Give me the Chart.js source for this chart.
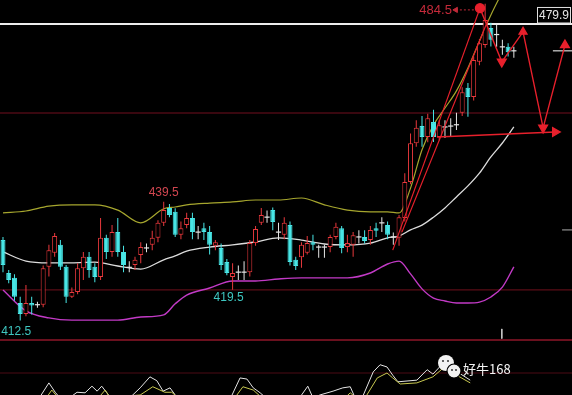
<!DOCTYPE html>
<html><head><meta charset="utf-8">
<script src="https://cdn.jsdelivr.net/npm/chart.js@4.4.1/dist/chart.umd.min.js"></script>
<style>html,body{margin:0;padding:0;background:#000;overflow:hidden}canvas{display:block}</style>
</head><body>
<canvas id="c" width="572" height="395"></canvas>
<script>
// ---- candle data (index = bar number) ----
const opens  = [430.8,423.3,422.2,416.5,414.0,416.5,416.1,416.1,424.7,427.9,429.7,424.7,417.9,419.0,424.4,427.0,424.7,422.4,431.3,428.1,432.6,428.1,424.6,425.1,427.4,429.0,429.7,431.3,434.7,438.1,437.2,432.0,434.2,435.8,432.6,433.5,432.6,429.5,429.0,425.8,422.4,423.5,423.5,423.5,430.1,434.7,436.0,437.6,432.6,432.0,434.2,426.3,426.9,427.9,430.3,429.2,429.2,429.2,431.5,433.5,429.2,429.7,431.5,431.5,430.8,433.5,434.7,434.2,431.5,431.3,435.8,444.0,452.8,456.7,454.2,457.6,454.2,456.5,456.7,457.0,459.7,465.4,463.3,471.3,475.1,479.0,477.5,474.7,474.7,473.8];
const highs  = [431.5,424.0,423.0,417.9,420.6,417.9,416.8,425.0,429.7,432.4,430.8,425.1,420.0,425.5,428.1,428.1,425.5,435.8,432.0,434.2,435.8,429.5,426.0,427.0,430.3,430.0,432.9,435.3,439.5,439.0,438.0,435.0,437.0,437.0,434.0,434.7,434.0,430.8,430.0,426.5,425.5,425.0,426.0,430.8,434.0,438.1,437.5,438.2,434.7,436.0,435.0,427.0,430.3,431.7,432.0,429.7,429.7,432.0,434.7,434.0,432.0,432.6,433.0,433.0,434.0,434.7,436.0,435.0,432.5,436.5,446.0,455.0,458.0,459.0,459.5,460.4,458.0,458.0,458.5,459.7,465.5,466.5,472.5,476.5,484.5,480.2,479.7,476.3,475.5,474.7];
const lows   = [423.5,421.0,417.0,412.5,413.5,413.9,415.4,415.5,422.5,427.0,424.0,416.5,417.6,418.5,421.7,422.2,421.2,421.7,426.5,427.0,427.0,423.5,423.5,424.0,425.5,428.0,428.5,430.3,434.0,436.0,431.5,431.0,433.5,431.0,431.0,430.8,427.5,428.5,424.0,422.8,419.5,421.7,421.7,422.5,429.5,434.2,434.7,433.0,430.8,431.0,425.0,424.0,424.5,427.5,428.5,426.8,426.8,428.0,431.0,427.8,428.0,427.0,430.0,430.0,429.7,431.5,432.6,431.0,429.7,429.5,435.0,443.5,452.0,452.0,453.0,453.1,453.5,454.0,454.2,455.8,459.0,458.8,462.5,470.5,474.5,474.8,474.7,472.9,472.5,472.2];
const closes = [425.1,421.7,417.9,414.0,416.5,415.9,416.1,424.4,428.5,431.7,424.7,417.9,419.0,424.4,427.0,424.0,422.4,431.3,428.1,432.6,428.1,425.1,424.6,426.3,429.2,429.0,431.3,434.7,437.6,436.5,432.0,433.5,435.8,432.6,432.6,432.6,429.7,430.3,425.1,423.3,423.3,423.5,423.5,430.1,433.3,436.5,436.0,434.9,432.6,434.7,425.8,424.9,429.7,430.1,429.7,429.2,429.2,431.5,433.8,429.0,430.1,431.9,431.5,430.6,433.1,432.9,434.7,432.0,431.5,436.0,444.0,452.8,456.3,454.2,458.5,454.2,456.9,456.5,456.7,457.0,464.4,463.3,471.7,475.5,480.8,476.3,477.5,474.7,473.5,473.8];

// ---- Bollinger bands (sampled bars) ----
const upperIdx  = [0,4,8,12,16,20,24,28,30,32,36,40,44,48,52,56,60,64,67,69,71,73,75,77,79,81,83,85,87];
const upperBand = [436.95,437.4,438.5,438.8,438.8,437.6,434.7,437.9,438.3,438.8,439.2,439.45,439.9,439.9,440.35,438.8,437.6,437.2,437.2,436.95,442.6,451.3,456.95,460.8,464.7,469.9,476.0,481.95,487.2];
const bandIdx   = [0,4,8,12,16,20,24,28,30,32,36,40,44,48,52,56,60,64,67,69,71,73,75,77,79,81,83,85,87,89];
const midBand   = [428.1,426.0,425.6,425.6,425.8,424.9,424.2,426.3,427.2,428.3,429.2,429.7,430.35,431.3,430.8,429.9,429.7,430.1,431.3,431.7,433.1,434.2,436.0,438.1,440.6,443.1,446.0,449.7,452.85,456.5];
const lowerBand = [419.45,414.7,413.1,412.6,412.6,412.6,413.3,413.8,416.3,418.3,419.9,421.5,421.5,421.95,422.2,422.2,422.2,423.3,425.35,426.0,423.1,419.7,417.6,416.95,416.5,416.5,416.7,417.85,420.1,424.7];

// ---- lower indicator panel ----
const whiteIdx = [6.1,8.0,9.1,9.9,12.0,12.9,14.3,15.5,16.4,17.2,18.1,19.0,22.1,23.9,25.6,26.8,27.9,29.1,30.0,30.8,39.5,41.3,42.5,43.6,44.8,46.2,51.4,53.1,54.0,55.2,57.5,59.2,60.5,61.3,62.7,64.5,65.7,66.9,67.9,68.8,72.1,73.9,74.9,76.7,78.7,81.4];
const whiteVal = [-9,22,5,-5,-2,5,4,16,7,16,4,-9,-5,13,33,26,7,13,0,-9,-9,31,29,13,4,-9,-9,16,-5,0,7,13,15,-4,-2,42,55,51,36,24,27,46,38,58,45,27];
const yellowIdx = [7.3,8.5,9.6,16.9,17.8,18.6,23.9,26.1,28.2,29.4,30.5,40.4,41.8,43.6,45.1,59.6,60.5,61.5,63.1,65.2,66.9,67.9,69.2,72.1,74.9,76.7,78.7,81.4];
const yellowVal = [-9,9,-5,-2,9,-4,0,15,5,5,-5,-5,15,9,-5,-5,4,-5,-5,31,40,31,20,22,33,49,38,22];

// ---- drawn annotations (bar index, price) ----
const forecastIdx = [83.1,86.9,90.6,94.1,97.9];
const forecastVal = [483.5,471.3,478.1,456.3,475.1];
const supportIdx = [75.6,96.2];
const supportVal = [454.2,455.35];
const trendAIdx = [67.9,83.1], trendAVal = [428.5,483.5];
const trendBIdx = [69.5,84.5], trendBVal = [432.6,480.8];
const peakLeaderIdx = [78.9,82.6], peakLeaderVal = [483.1,483.1];
const lastPrice = 479.9;
const guideLevels = [459.66,419.45];
const panelLevels = [100,40];

const X_MIN = -0.52, X_MAX = 99.13;
const UP = '#e8383c', DOWN = '#48e6e6', FLAT = '#e6e6e6', ANN = '#e8202c';

const N = opens.length;
const idx = opens.map((_, i) => i);
const colorOf = i => closes[i] > opens[i] ? UP : (closes[i] < opens[i] ? DOWN : FLAT);
const pairs = (xs, ys) => xs.map((x, k) => ({x, y: ys[k]}));
const hline = (v) => [{x: X_MIN, y: v}, {x: X_MAX, y: v}];

const bodyIdx = idx.filter(i => opens[i] !== closes[i]);
const dojiIdx = idx.filter(i => opens[i] === closes[i]);

const lineDs = (data, color, width, extra) => Object.assign({
  type: 'line', data, borderColor: color, borderWidth: width, pointRadius: 0,
  fill: false, yAxisID: 'y', order: 5
}, extra || {});

const datasets = [
  // guide lines
  lineDs(hline(lastPrice), '#ececec', 2, {order: 9}),
  lineDs(hline(guideLevels[0]), '#4c0a14', 1.5, {order: 9}),
  lineDs(hline(guideLevels[1]), '#5a0c16', 1.2, {order: 9}),
  lineDs(hline(panelLevels[0]), '#8e1628', 1.6, {order: 9, yAxisID: 'y2'}),
  lineDs(hline(panelLevels[1]), '#4c0a14', 1.2, {order: 9, yAxisID: 'y2'}),
  // right axis tick marks
  lineDs([{x: 95.8, y: 473.8}, {x: X_MAX, y: 473.8}], '#d8d8d8', 1.2, {order: 9}),
  lineDs([{x: 97.4, y: 433.1}, {x: X_MAX, y: 433.1}], '#909090', 1.2, {order: 9}),
  lineDs([{x: 86.9, y: 410.6}, {x: 86.9, y: 408.4}], '#c8c8c8', 1, {order: 9}),
  // Bollinger bands
  lineDs(pairs(upperIdx, upperBand), '#a6a62e', 1.2, {cubicInterpolationMode: 'monotone', order: 6}),
  lineDs(pairs(bandIdx, midBand), '#dcdcdc', 1.3, {cubicInterpolationMode: 'monotone', order: 6}),
  lineDs(pairs(bandIdx, lowerBand), '#c23ac6', 1.4, {cubicInterpolationMode: 'monotone', order: 6}),
  // indicator panel
  lineDs(pairs(yellowIdx, yellowVal), '#c8c850', 1, {yAxisID: 'y2', order: 6}),
  lineDs(pairs(whiteIdx, whiteVal), '#e4e4e4', 1, {yAxisID: 'y2', order: 6}),
  // wicks
  {
    type: 'bar', data: idx.map(i => ({x: i, y: [lows[i], highs[i]]})),
    backgroundColor: idx.map(colorOf), barThickness: 1, grouped: false,
    inflateAmount: 0, yAxisID: 'y', order: 4
  },
  // bodies
  {
    type: 'bar', data: bodyIdx.map(i => ({x: i, y: [opens[i], closes[i]]})),
    backgroundColor: bodyIdx.map(i => closes[i] > opens[i] ? '#000' : DOWN),
    borderColor: bodyIdx.map(colorOf), borderWidth: 1, borderSkipped: false,
    barThickness: 5, grouped: false, inflateAmount: 0, yAxisID: 'y', order: 3
  },
  // doji crosses
  {
    type: 'line', showLine: false, data: dojiIdx.map(i => ({x: i, y: opens[i]})),
    pointStyle: 'line', pointRadius: 2.6, pointBorderColor: FLAT, pointBorderWidth: 1.2,
    yAxisID: 'y', order: 3
  },
  // trend lines
  lineDs(pairs(trendAIdx, trendAVal), ANN, 1.2, {order: 2}),
  lineDs(pairs(trendBIdx, trendBVal), ANN, 1.2, {order: 2}),
  lineDs(pairs(supportIdx, supportVal), ANN, 1.4, {order: 2,
    pointRadius: [0, 5], pointStyle: 'triangle', pointRotation: [0, 90],
    pointBackgroundColor: ANN, pointBorderColor: ANN}),
  lineDs(pairs(peakLeaderIdx, peakLeaderVal), '#c02a38', 1, {order: 2, borderDash: [2, 2],
    pointRadius: [3, 0], pointStyle: 'triangle', pointRotation: [-90, 0],
    pointBackgroundColor: '#c02a38', pointBorderColor: '#c02a38'}),
  lineDs(pairs(forecastIdx, forecastVal), ANN, 1.4, {order: 1,
    pointRadius: [4.5, 5, 4.5, 5, 5], pointStyle: ['circle', 'triangle', 'triangle', 'triangle', 'triangle'],
    pointRotation: [0, 180, 0, 180, 0], pointBackgroundColor: ANN, pointBorderColor: ANN})
];

const textPlugin = {
  id: 'texts',
  afterDatasetsDraw(chart) {
    const {ctx} = chart;
    const x = chart.scales.x, y = chart.scales.y;
    ctx.save();
    ctx.textBaseline = 'middle';
    ctx.font = '12px "Liberation Sans", Arial, sans-serif';

    // high of the range
    let hi = 0;
    for (let i = 0; i < 69; i++) if (highs[i] > highs[hi]) hi = i;
    ctx.fillStyle = '#d24650'; ctx.textAlign = 'center';
    ctx.fillText(highs[hi].toFixed(1), x.getPixelForValue(hi), y.getPixelForValue(highs[hi]) - 9);

    // local low
    let lo = 30;
    for (let i = 30; i < 69; i++) if (lows[i] < lows[lo]) lo = i;
    ctx.fillStyle = '#3ec6c0';
    ctx.fillText(lows[lo].toFixed(1), x.getPixelForValue(lo) - 4, y.getPixelForValue(lows[lo]) + 8);

    // absolute low
    let lo2 = 0;
    for (let i = 0; i < N; i++) if (lows[i] < lows[lo2]) lo2 = i;
    ctx.fillText(lows[lo2].toFixed(1), x.getPixelForValue(lo2) - 4, y.getPixelForValue(lows[lo2]) + 11);

    // peak
    let pk = 0;
    for (let i = 0; i < N; i++) if (highs[i] > highs[pk]) pk = i;
    ctx.font = '13px "Liberation Sans", Arial, sans-serif';
    ctx.fillStyle = '#c42a3a'; ctx.textAlign = 'right';
    ctx.fillText(highs[pk].toFixed(1), x.getPixelForValue(peakLeaderIdx[0]) - 4, y.getPixelForValue(peakLeaderVal[0]) + 1);

    // last price box
    const py = y.getPixelForValue(lastPrice);
    ctx.fillStyle = '#000';
    ctx.fillRect(537.5, py - 16, 33, 15);
    ctx.strokeStyle = '#e0e0e0'; ctx.lineWidth = 1;
    ctx.strokeRect(537.5, py - 16.5, 33, 15.5);
    ctx.font = '12px "Liberation Sans", Arial, sans-serif';
    ctx.fillStyle = '#e6e6e6'; ctx.textAlign = 'center';
    ctx.fillText(lastPrice.toFixed(1), 554, py - 8.5);

    // watermark logo + text
    ctx.fillStyle = '#f2f2f2';
    ctx.beginPath(); ctx.arc(446, 363, 8, 0, Math.PI * 2); ctx.fill();
    ctx.strokeStyle = '#000'; ctx.lineWidth = 1.2;
    ctx.beginPath(); ctx.arc(454, 371, 7, 0, Math.PI * 2); ctx.fill(); ctx.stroke();
    ctx.fillStyle = '#333';
    [[443,361],[448,361],[452,370],[456,370]].forEach(([a,b]) => { ctx.beginPath(); ctx.arc(a, b, 1, 0, Math.PI*2); ctx.fill(); });
    ctx.fillStyle = '#f4f4f4'; ctx.textAlign = 'left';
    ctx.font = '13px "Noto Sans CJK SC", sans-serif';
    ctx.fillText('好牛168', 463, 369);
    ctx.restore();
  }
};

new Chart(document.getElementById('c'), {
  type: 'line',
  data: {datasets},
  options: {
    responsive: false, animation: false, devicePixelRatio: 1, events: [],
    layout: {padding: 0, autoPadding: false},
    plugins: {legend: {display: false}, tooltip: {enabled: false}},
    scales: {
      x: {type: 'linear', min: X_MIN, max: X_MAX, display: false, offset: false, grid: {offset: false}},
      y: {type: 'linear', min: 395.58, max: 485.35, display: false},
      y2: {type: 'linear', min: 0, max: 718.18, display: false}
    }
  },
  plugins: [textPlugin]
});
</script>
</body></html>
